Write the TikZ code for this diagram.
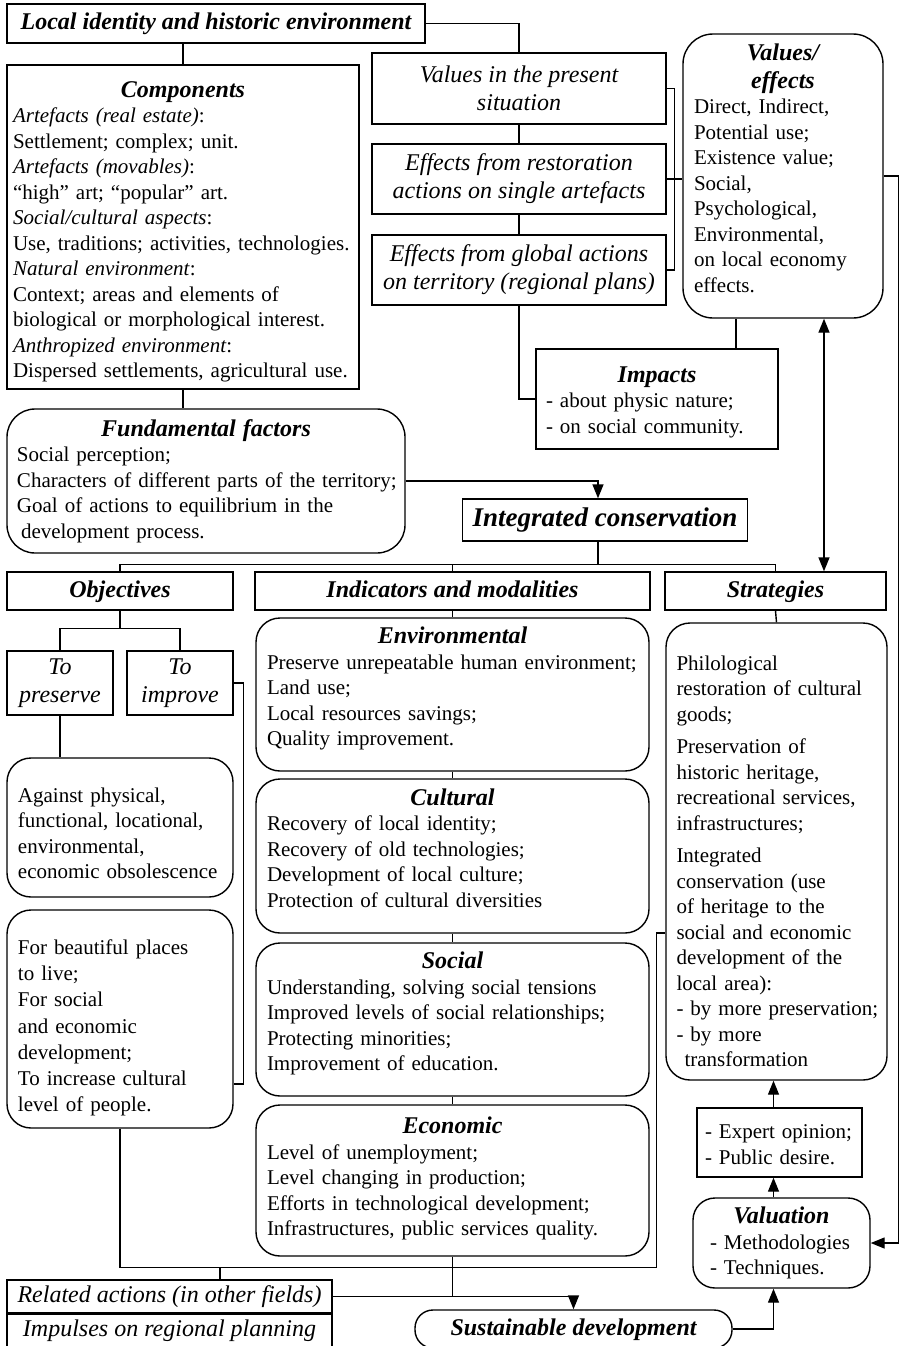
\documentclass[tikz,border=0pt]{standalone}
\usepackage{fontspec}
\setmainfont{Liberation Serif}
\usetikzlibrary{calc, arrows.meta, positioning}

\newcommand{\bodyfont}{\fontsize{10.5}{12.75}\selectfont}
\newcommand{\headfont}{\fontsize{12}{14}\selectfont\bfseries\itshape}
\newcommand{\boxhead}[1]{{\centering\headfont #1\par}}
\newcommand{\padbottom}[1]{\par\vspace*{#1}\hrule height 0pt width 0pt}

\tikzset{
  box/.style={draw, line width=0.7pt, inner ysep=0pt, inner xsep=5pt, font=\bodyfont},
  rbox/.style={box, rounded corners=12pt},
  ibox/.style={box, font=\fontsize{12}{14}\selectfont\itshape, align=center},
  hbox/.style={box, font=\headfont, align=center},
  oneline/.style={text height=8.5pt, text depth=2.5pt},
  arr/.style={-{Triangle[length=7pt,width=5.5pt]}},
  darr/.style={{Triangle[length=7pt,width=5.5pt]}-{Triangle[length=7pt,width=5.5pt]}},
}

\begin{document}
\begin{tikzpicture}[x=0.5pt, y=-0.5pt, line width=0.7pt]
    \clip (0,0) rectangle (900,1346);

    % Top part: identity, components, effects
    \node[hbox, oneline, minimum width=209pt, minimum height=19.5pt] (loc) at (216,23.5) {Local identity and historic environment};
    \node[box, text width=170pt, inner xsep=3pt, minimum height=162pt] (comp) at (183,227) {\raggedright
      \boxhead{Components}
      \textit{Artefacts (real estate)}:\\
      Settlement; complex; unit.\\
      \textit{Artefacts (movables)}:\\
      “high” art; “popular” art.\\
      \textit{Social/cultural aspects}:\\
      \mbox{Use, traditions; activities, technologies.}\\
      \textit{Natural environment}:\\
      Context; areas and elements of\\
      \mbox{biological or morphological interest.}\\
      \textit{Anthropized environment}:\\
      \mbox{Dispersed settlements, agricultural use.}\padbottom{-5pt}};
    \node[ibox, minimum width=147pt, minimum height=35.5pt] (val1) at (519,88.5) {Values in the present\\situation};
    \node[ibox, minimum width=147pt, minimum height=35pt] (eff1) at (519,179) {Effects from restoration\\actions on single artefacts};
    \node[ibox, minimum width=147pt, minimum height=35pt] (eff2) at (519,270) {Effects from global actions\\on territory (regional plans)};
    \node[rbox, rounded corners=15pt, text width=89pt, inner xsep=5.5pt, minimum height=142pt] (veff) at (783,176) {\raggedright
      \boxhead{Values/\\effects}
      Direct, Indirect,\\
      Potential use;\\
      Existence value;\\
      Social,\\
      Psychological,\\
      Environmental,\\
      on local economy\\
      effects.\padbottom{8pt}};
    \node[box, text width=111pt, minimum height=50pt] (imp) at (657,399) {\raggedright
      \boxhead{Impacts}
      - about physic nature;\\
      - on social community.\padbottom{-3pt}};
    \node[rbox, rounded corners=14pt, text width=189pt, minimum height=72pt] (fund) at (206,481) {\raggedright
      \boxhead{Fundamental factors}
      Social perception;\\
      \mbox{Characters of different parts of the territory;}\\
      Goal of actions to equilibrium in the\\
      \hspace{2pt}development process.};
    \node[box, oneline, font=\fontsize{13.5}{16}\selectfont\bfseries\itshape, minimum width=142pt, minimum height=21pt] (integ) at (605,520) {Integrated conservation};

    % Three columns
    \node[hbox, oneline, minimum width=113pt, minimum height=19pt] (obj) at (120,591) {Objectives};
    \node[hbox, oneline, minimum width=197.5pt, minimum height=19pt] (ind) at (452.5,591) {Indicators and modalities};
    \node[hbox, oneline, minimum width=110.5pt, minimum height=19pt] (strat) at (775.5,591) {Strategies};

    \node[ibox, minimum width=53pt, minimum height=32pt] (pres) at (60,683) {To\\preserve};
    \node[ibox, minimum width=53pt, minimum height=32pt] (impr) at (180,683) {To\\improve};
    \node[rbox, text width=102pt, inner xsep=5.5pt, minimum height=69.5pt] (against) at (120,827.5) {\raggedright
      Against physical,\\
      functional, locational,\\
      environmental,\\
      \mbox{economic obsolescence}\padbottom{-6pt}};
    \node[rbox, text width=102pt, inner xsep=5.5pt, minimum height=109pt] (beaut) at (120,1019) {\raggedright
      \baselineskip=13.1pt
      For beautiful places\\
      to live;\\
      For social\\
      and economic\\
      development;\\
      To increase cultural\\
      level of people.\padbottom{-9pt}};

    \node[rbox, text width=185.5pt, inner xsep=5.5pt, minimum height=76.5pt] (env) at (452.5,694.5) {\raggedright
      \boxhead{Environmental}
      \mbox{Preserve unrepeatable human environment;}\\
      Land use;\\
      Local resources savings;\\
      Quality improvement.\padbottom{6pt}};
    \node[rbox, text width=185.5pt, inner xsep=5.5pt, minimum height=77pt] (cult) at (452.5,856) {\raggedright
      \boxhead{Cultural}
      Recovery of local identity;\\
      Recovery of old technologies;\\
      Development of local culture;\\
      Protection of cultural diversities\padbottom{8pt}};
    \node[rbox, text width=185.5pt, inner xsep=5.5pt, minimum height=76.5pt] (soc) at (452.5,1019.5) {\raggedright
      \boxhead{Social}
      Understanding, solving social tensions\\
      \mbox{Improved levels of social relationships;}\\
      Protecting minorities;\\
      Improvement of education.\padbottom{6pt}};
    \node[rbox, text width=185.5pt, inner xsep=5.5pt, minimum height=75.5pt] (econ) at (452.5,1180.5) {\raggedright
      \boxhead{Economic}
      Level of unemployment;\\
      Level changing in production;\\
      \mbox{Efforts in technological development;}\\
      \mbox{Infrastructures, public services quality.}\padbottom{2pt}};

    \node[rbox, text width=100pt, inner xsep=5.25pt, minimum height=228.5pt] (stratc) at (776.5,851.5) {\raggedright
      Philological\\
      restoration of cultural\\
      goods;\par\vspace{3.5pt}
      Preservation of\\
      historic heritage,\\
      recreational services,\\
      infrastructures;\par\vspace{3.5pt}
      Integrated\\
      conservation (use\\
      of heritage to the\\
      social and economic\\
      development of the\\
      local area):\\
      \mbox{- by more preservation;}\\
      - by more\\
      \hspace{4pt}transformation\padbottom{-10pt}};
    \node[box, text width=74.5pt, inner xsep=4pt, minimum height=34.5pt] (expert) at (779.5,1142.5) {\raggedright
      - Expert opinion;\\
      - Public desire.\padbottom{-2pt}};
    \node[rbox, rounded corners=11pt, text width=71.5pt, inner xsep=8.5pt, minimum height=45pt] (valu) at (781.5,1243) {\raggedright
      \boxhead{Valuation}
      - Methodologies\\
      - Techniques.};

    % Bottom row
    \node[ibox, oneline, minimum width=162.5pt, minimum height=16.5pt] (rel) at (169.5,1296.5) {Related actions (in other fields)};
    \node[ibox, oneline, minimum width=162.5pt, minimum height=17.5pt] (impul) at (169.5,1330.5) {Impulses on regional planning};
    \draw[line width=1.6pt] (rel.south west) -- (rel.south east);
    \node[hbox, oneline, rounded corners=9pt, minimum width=158.5pt, minimum height=19pt] (sust) at (573.5,1329) {Sustainable development};

    % Connectors in the top part
    \draw (comp.north) -- (comp.north |- loc.south);
    \draw (loc.east) -| (val1.north);
    \draw (val1.south) -- (eff1.north);
    \draw (eff1.south) -- (eff2.north);
    \draw (eff2.south) |- (imp.west);
    \draw (val1.east) -- ++(8,0) |- (eff2.east);
    \draw (eff1.east) -- (eff1.east -| veff.west);
    \coordinate (vi) at ($(veff.south)+(-47,0)$);
    \draw (vi) -- (vi |- imp.north);
    \draw (comp.south) -- (comp.south |- fund.north);
    \coordinate (ic) at ($(integ.north)+(-7,0)$);
    \draw[arr] (fund.east) -| (ic);

    % Tree under integrated conservation
    \coordinate (bus) at ($(integ.south)+(-7,23)$);
    \draw (ic |- integ.south) -- (bus);
    \draw (obj.north) -- (obj.north |- bus) -- (strat.north |- bus) -- (strat.north);
    \draw (ind.north) -- (ind.north |- bus);
    \coordinate (ve) at ($(veff.south)+(41,0)$);
    \draw[darr] (ve) -- (ve |- strat.north);

    % Objectives column
    \coordinate (ot) at ($(obj.south)+(0,18)$);
    \draw (obj.south) -- (ot);
    \draw (pres.north) |- (ot) -| (impr.north);
    \draw (pres.south) -- (pres.south |- against.north);
    \draw (impr.east) -- ++(10,0) |- ($(beaut.east)+(0,65)$);

    % Indicators column
    \draw (ind.south) -- (env.north);
    \draw (env.south) -- (cult.north);
    \draw (cult.south) -- (soc.north);
    \draw (soc.south) -- (econ.north);

    % Strategies column
    \coordinate (vx) at ($(valu.south)+(-8,0)$);
    \draw (strat.south) -- (stratc.north);
    \draw[arr] (vx |- expert.north) -- (vx |- stratc.south);
    \draw[arr] (vx |- valu.north) -- (vx |- expert.south);
    \draw[arr] (sust.east) -| (vx);
    \draw[arr] (veff.east) -- ++(15,0) |- (valu.east);

    % Loop at the bottom
    \coordinate (sl) at ($(stratc.west)+(0,81.5)$);
    \coordinate (lb) at ($(beaut.south)+(0,139)$);
    \draw (beaut.south) -- (lb) -| ($(sl)+(-9,0)$) -- (sl);
    \coordinate (rn) at ($(rel.north)+(50.5,0)$);
    \draw (rn) -- (rn |- lb);
    \draw (econ.south) -- (econ.south |- rel.east);
    \draw[arr] (rel.east) -| (sust.north);
\end{tikzpicture}
\end{document}
